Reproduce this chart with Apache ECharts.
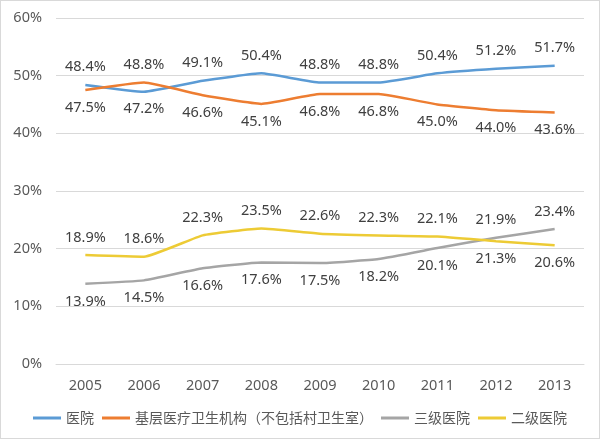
<!DOCTYPE html>
<html><head><meta charset="utf-8">
<script src="https://cdn.jsdelivr.net/npm/echarts@6/dist/echarts.min.js"></script>
<style>html,body{margin:0;padding:0;background:#fff;}#c{width:598px;height:437px;border:1px solid #d9d9d9;}</style>
</head><body><div id="c"></div>
<script>
const years = ['2005','2006','2007','2008','2009','2010','2011','2012','2013'];
const hospital = [48.4, 47.2, 49.1, 50.4, 48.8, 48.8, 50.4, 51.2, 51.7];
const primary = [47.5, 48.8, 46.6, 45.1, 46.8, 46.8, 45.0, 44.0, 43.6];
const tertiary = [13.9, 14.5, 16.6, 17.6, 17.5, 18.2, 20.1, 21.9, 23.4];
const secondary = [18.9, 18.6, 22.3, 23.5, 22.6, 22.3, 22.1, 21.3, 20.6];
const names = ['医院', '基层医疗卫生机构（不包括村卫生室）', '三级医院', '二级医院'];
const colors = ['#5B9BD5', '#ED7D31', '#A5A5A5', '#EDCB35'];

function mk(name, vals, partner, color) {
  return {
    name: name, type: 'line', smooth: 0.12, symbol: 'circle', symbolSize: 0.1, showSymbol: true,
    lineStyle: {width: 2.5, color: color}, itemStyle: {color: color},
    data: vals.map((v, i) => ({
      value: v,
      label: {position: v > partner[i] ? 'top' : 'bottom'}
    })),
    label: {show: true, distance: 10, fontSize: 14.5, color: '#404040',
      fontFamily: 'Noto Sans', formatter: p => p.value.toFixed(1) + '%'}
  };
}
const chart = echarts.init(document.getElementById('c'));
chart.setOption({
  animation: false,
  textStyle: {fontFamily: '"Noto Sans CJK SC", "Noto Sans", sans-serif'},
  grid: {left: 55, right: 15, top: 17, bottom: 74},
  legend: {
    bottom: 8, left: 'center', itemWidth: 28, itemHeight: 3, itemGap: 8,
    icon: 'rect',
    textStyle: {fontSize: 14, color: '#595959', fontFamily: '"Noto Sans CJK SC", sans-serif'},
    data: names
  },
  xAxis: {
    type: 'category', data: years, boundaryGap: true,
    axisLine: {show: true, lineStyle: {color: '#d9d9d9'}}, axisTick: {show: false},
    axisLabel: {fontSize: 14.5, color: '#595959', margin: 14, fontFamily: 'Noto Sans'}
  },
  yAxis: {
    type: 'value', min: 0, max: 60, interval: 10,
    axisLine: {show: false}, axisTick: {show: false},
    axisLabel: {fontSize: 14.5, color: '#595959', formatter: '{value}%', margin: 14, fontFamily: 'Noto Sans'},
    splitLine: {lineStyle: {color: '#d9d9d9'}}
  },
  series: [
    mk(names[0], hospital, primary, colors[0]),
    mk(names[1], primary, hospital, colors[1]),
    mk(names[2], tertiary, secondary, colors[2]),
    mk(names[3], secondary, tertiary, colors[3])
  ]
});
</script></body></html>
